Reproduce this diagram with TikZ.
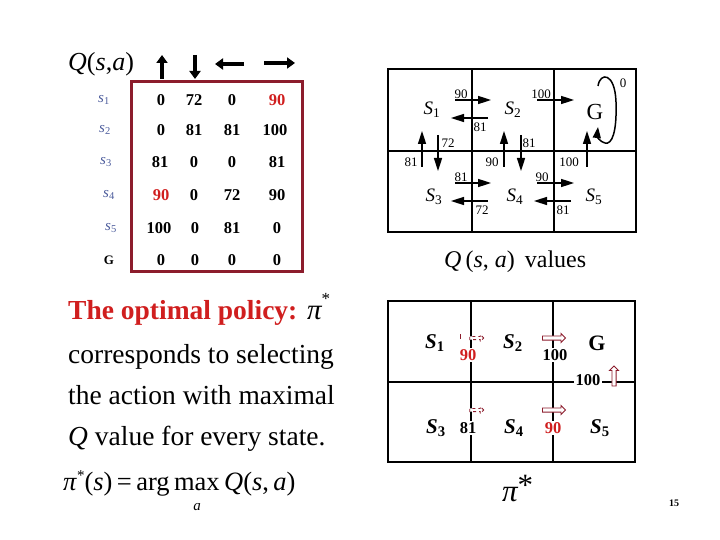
\documentclass[tikz,border=0pt]{standalone}
\usepackage{fontspec}
\setmainfont{Liberation Serif}
\usetikzlibrary{arrows.meta,shapes.arrows}

\definecolor{qred}{HTML}{D01E1E}
\definecolor{boxred}{HTML}{8C1C2C}
\definecolor{sblue}{HTML}{4C5C9C}
\newcommand{\rd}[1]{\textcolor{qred}{#1}}
\newcommand{\fs}[1]{\fontsize{#1}{#1}\selectfont}

\begin{document}
\begin{tikzpicture}[x=1pt,y=-1pt,inner sep=1pt,
  qv/.style={font=\fs{16.5}\bfseries},
  sl/.style={font=\fs{15}\itshape,text=sblue},
  num/.style={font=\fs{13}},
  cell/.style={font=\fs{19}\itshape},
  pcell/.style={font=\fs{21}\bfseries\itshape},
  pv/.style={font=\fs{16.5}\bfseries,fill=white,inner sep=1.5pt},
  big/.style={-{Triangle[length=8pt,width=11pt]},line width=4pt},
  mv/.style={-{Triangle[length=13pt,width=8pt]},line width=1.6pt},
  hol/.style={single arrow,draw=boxred,line width=0.8pt,fill=white,minimum height=23pt,inner sep=1.7pt,single arrow head extend=2.5pt},
  dhol/.style={hol,dashed,minimum height=14pt,inner sep=1.2pt,single arrow head extend=2pt}]
\useasboundingbox (0,0) rectangle (720,540);

% Q table
\node[anchor=base west,font=\fs{26}\itshape] (qh) at (67,71) {Q\/\upshape(\itshape s\upshape,\itshape a\upshape)};
\draw[big] (162,79) -- (162,55);
\draw[big] (195,55) -- (195,79);
\draw[big] (244,64) -- (215,64);
\draw[big] (264,63) -- (295,63);
\draw[boxred,line width=3pt] (131,82) rectangle (302,271);
\foreach \s/\x/\y in {1/104/100,2/105/130,3/106/162,4/109/195,5/111/228}
  \node[sl] (s\s) at (\x,\y) {s\textsubscript{\upshape\s}};
\node[font=\fs{13}\bfseries] (sg) at (109,260) {G};
\foreach \v/\x [count=\c] in {0/161,72/194,0/232,\rd{90}/277}
  \node[qv] (v1\c) at (\x,100) {\v};
\foreach \v/\x [count=\c] in {0/161,81/194,81/232,100/275}
  \node[qv] (v2\c) at (\x,130) {\v};
\foreach \v/\x [count=\c] in {81/160,0/194,0/232,81/277}
  \node[qv] (v3\c) at (\x,162) {\v};
\foreach \v/\x [count=\c] in {\rd{90}/161,0/194,72/232,90/277}
  \node[qv] (v4\c) at (\x,195) {\v};
\foreach \v/\x [count=\c] in {100/159,0/195,81/232,0/277}
  \node[qv] (v5\c) at (\x,228) {\v};
\foreach \v/\x [count=\c] in {0/161,0/195,0/232,0/277}
  \node[qv] (v6\c) at (\x,260) {\v};

% Q values grid
\draw[line width=2pt] (388,69) rectangle (636,232) (472,69) -- (472,232) (554,69) -- (554,232) (388,151) -- (636,151);
\node[cell] (a1) at (432,110) {S\textsubscript{\upshape 1}};
\node[cell] (a2) at (513,110) {S\textsubscript{\upshape 2}};
\node[font=\fs{23}] (ag) at (595,112) {G};
\node[cell] (a3) at (434,197) {S\textsubscript{\upshape 3}};
\node[cell] (a4) at (515,197) {S\textsubscript{\upshape 4}};
\node[cell] (a5) at (594,197) {S\textsubscript{\upshape 5}};
\draw[mv] (455,100) -- (491,100);
\draw[mv] (488,118) -- (451,118);
\draw[mv] (537,100) -- (574,100);
\draw[mv] (455,183) -- (491,183);
\draw[mv] (488,201) -- (451,201);
\draw[mv] (537,183) -- (574,183);
\draw[mv] (571,201) -- (534,201);
\draw[mv] (422,167) -- (422,131);
\draw[mv] (438,135) -- (438,171);
\draw[mv] (504,167) -- (504,131);
\draw[mv] (521,135) -- (521,171);
\draw[mv] (587,167) -- (587,131);
\draw[-{Triangle[length=11pt,width=8pt]},line width=1.5pt] (598,86) .. controls (600,72) and (615,72) .. (616,102) .. controls (617,132) and (612,145) .. (605,143) .. controls (600,142) and (597,136) .. (598,127);
\foreach \t/\x/\y [count=\i] in {90/461/94,81/480/127,100/541/94,81/461/177,72/482/210,90/542/177,81/563/210,81/411/162,72/448/143,90/492/162,81/529/143,100/569/162,0/623/83}
  \node[num] (n\i) at (\x,\y) {\t};
\node[anchor=base west,font=\fs{24}] (qvl) at (443,267) {\textit{Q}\,(\textit{s}, \textit{a})\, values};

% policy grid
\draw[line width=1.6pt] (388,301) rectangle (635,462) (471,301) -- (471,462) (553,301) -- (553,462) (388,382) -- (635,382);
\node[pcell] (p1) at (435,343) {S\textsubscript{\upshape 1}};
\node[pcell] (p2) at (513,343) {S\textsubscript{\upshape 2}};
\node[font=\fs{22}\bfseries] (pg) at (597,343) {G};
\node[pcell] (p3) at (436,428) {S\textsubscript{\upshape 3}};
\node[pcell] (p4) at (514,428) {S\textsubscript{\upshape 4}};
\node[pcell] (p5) at (600,428) {S\textsubscript{\upshape 5}};
\node[dhol] (h1) at (476,338) {};
\draw[boxred,line width=0.8pt] (460,334) -- (460,339);
\node[hol] (h2) at (553,338) {};
\node[dhol] (h3) at (476,410) {};
\node[hol] (h4) at (553,410) {};
\node[pv,text=qred] (pa) at (468,355) {90};
\node[pv] (pb) at (555,355) {100};
\node[pv] (pc) at (588,380) {100};
\node[hol,minimum height=20pt,shape border rotate=90] (h5) at (614,377) {};
\node[pv] (pd) at (468,428) {81};
\node[pv,text=qred] (pe) at (553,428) {90};
\node[anchor=base west,font=\fs{31}\itshape] (pst) at (501,501) {π\raisebox{6pt}{\upshape *}};
\node[font=\fs{10}\bfseries] (pn) at (674,503) {15};

% text
\node[anchor=base west,font=\fs{27.5}\bfseries,text=qred] (t0) at (67,319) {The optimal policy:};
\node[anchor=base west,font=\fs{29}\itshape] (t0p) at (306,319) {π\raisebox{15pt}{\fs{17}\upshape *}};
\node[anchor=base west,font=\fs{27.5}] (t1) at (67,363) {corresponds to selecting};
\node[anchor=base west,font=\fs{27.5}] (t2) at (67,404) {the action with maximal};
\node[anchor=base west,font=\fs{27.5}] (t3) at (67,445) {\textit{Q} value for every state.};
\node[anchor=base west,font=\fs{26.5}] (f1) at (62,490) {\textit{π}\raisebox{10pt}{\fs{15}*}(\textit{s})\,=\,arg\,max\,\textit{Q}(\textit{s},\,\textit{a})};
\node[font=\fs{15}\itshape,inner sep=0pt] (fa) at (197,507) {a};
\end{tikzpicture}
\end{document}
